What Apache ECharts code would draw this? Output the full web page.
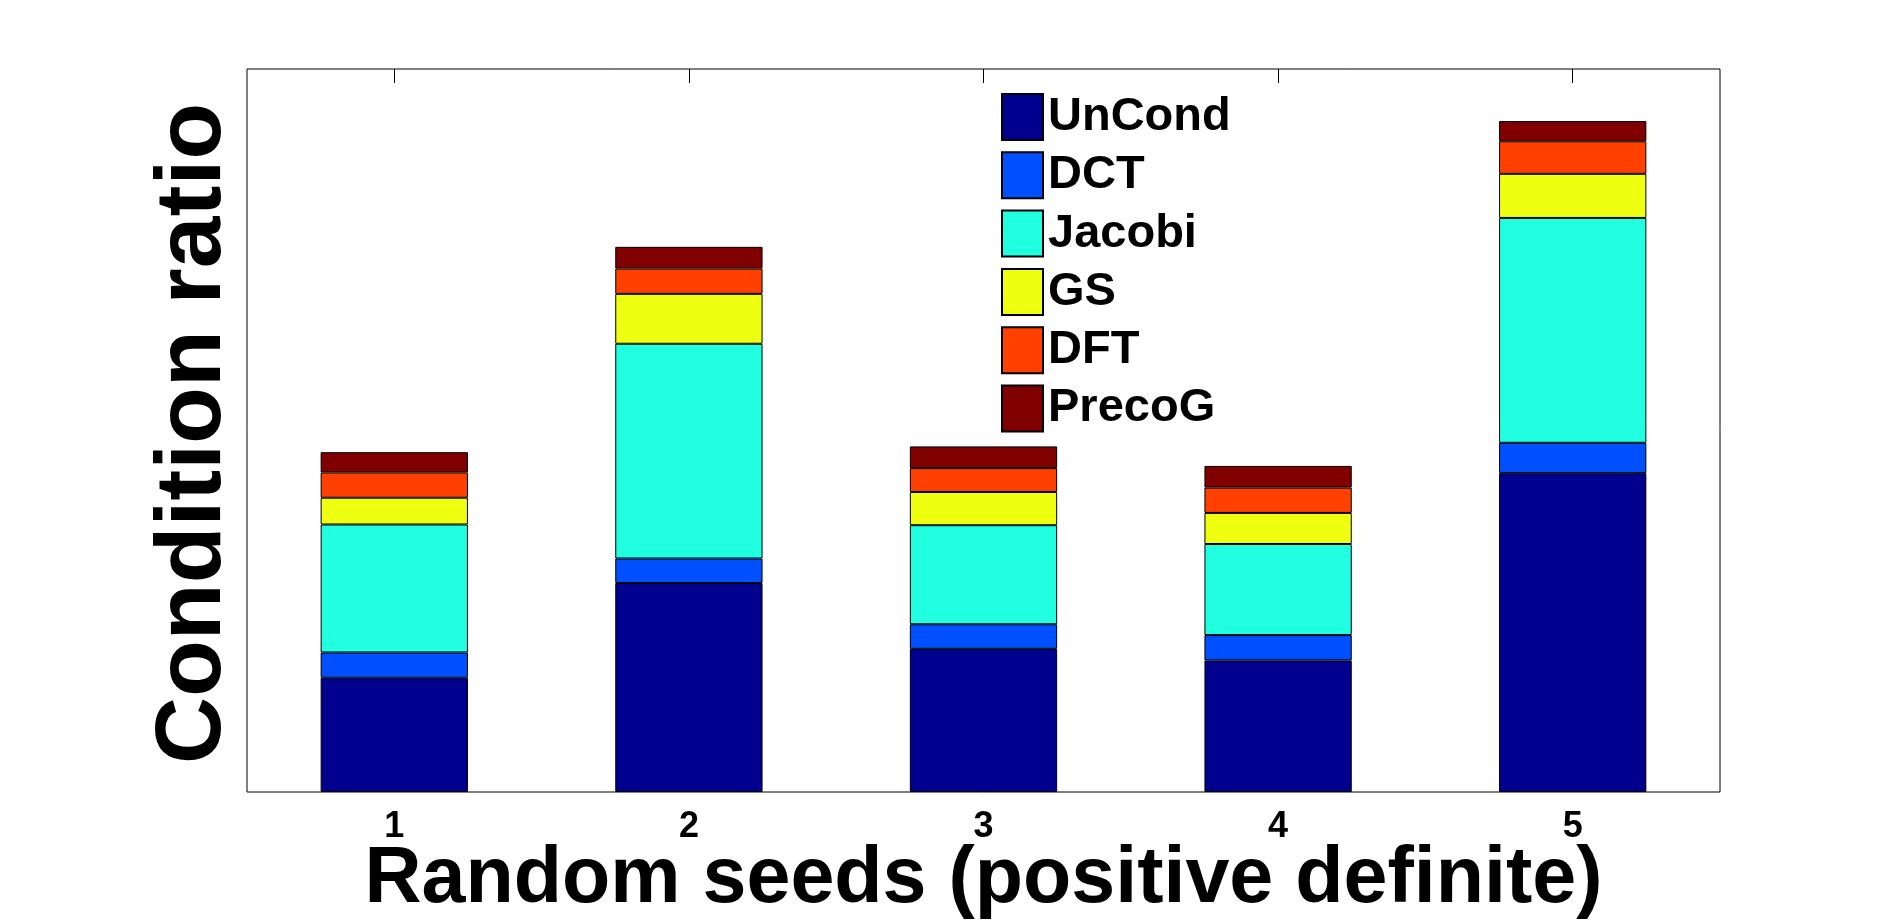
<!DOCTYPE html>
<html>
<head>
<meta charset="utf-8">
<script src="https://cdn.jsdelivr.net/npm/echarts@6/dist/echarts.min.js"></script>
<style>
  html, body { margin: 0; padding: 0; background: #fff; }
  #chart { width: 1900px; height: 922px; }
</style>
</head>
<body>
<div id="chart"></div>
<script>
var seeds = ['1', '2', '3', '4', '5']
var methods = ['UnCond', 'DCT', 'Jacobi', 'GS', 'DFT', 'PrecoG']
var colors = ['#00008f', '#0050ff', '#20ffdf', '#efff10', '#ff4000', '#800000']

// stacked segment heights per seed, in the order of methods
var unCond = [15.8, 28.9, 19.8, 18.2, 44.1]
var dct = [3.5, 3.4, 3.4, 3.5, 4.2]
var jacobi = [17.7, 29.7, 13.7, 12.6, 31.1]
var gs = [3.7, 6.9, 4.6, 4.3, 6.1]
var dft = [3.5, 3.5, 3.3, 3.5, 4.5]
var precoG = [2.8, 3.0, 3.0, 3.0, 2.8]
var values = [unCond, dct, jacobi, gs, dft, precoG]

var font = "'Liberation Sans', Arial, Helvetica, sans-serif"

var dom = document.getElementById('chart')
var myChart = echarts.init(dom)

var series = methods.map(function (name, i) {
  return {
    name: name,
    type: 'bar',
    stack: 'total',
    barWidth: '50%',
    data: values[i],
    itemStyle: {
      color: colors[i],
      borderColor: '#000',
      borderWidth: 1
    },
    emphasis: { disabled: true }
  }
})

option = {
  animation: false,
  backgroundColor: '#fff',
  grid: {
    left: 247, top: 69, width: 1473, height: 723,
    containLabel: false, outerBoundsMode: 'none',
    show: true, borderColor: '#000', borderWidth: 1, backgroundColor: 'transparent'
  },
  legend: {
    orient: 'vertical',
    left: 1001,
    top: 93,
    padding: 0,
    itemWidth: 41,
    itemHeight: 46,
    itemGap: 10.3,
    icon: 'rect',
    selectedMode: false,
    data: methods,
    textStyle: {
      fontSize: 47,
      fontWeight: 'bold',
      fontFamily: font,
      color: '#000',
      padding: [0, 0, 0, 0],
      lineHeight: 46
    }
  },
  xAxis: [
    {
      type: 'category',
      data: seeds,
      position: 'bottom',
      axisLine: { show: false },
      axisTick: { show: false },
      axisLabel: {
        color: '#000',
        fontSize: 36,
        fontWeight: 'bold',
        fontFamily: font,
        margin: 17
      },
      name: 'Random seeds (positive definite)',
      nameLocation: 'middle',
      nameGap: 49,
      nameMoveOverlap: false,
      nameTextStyle: {
        color: '#000',
        fontSize: 79,
        fontWeight: 'bold',
        fontFamily: font,
        verticalAlign: 'top'
      }
    },
    {
      type: 'category',
      data: seeds,
      position: 'top',
      axisLine: { show: false, onZero: false },
      axisTick: { show: true, inside: true, length: 14, alignWithLabel: true, lineStyle: { color: '#000' } },
      axisLabel: { show: false }
    }
  ],
  yAxis: {
    type: 'value',
    min: 0,
    max: 100,
    axisLine: { show: false },
    axisTick: { show: false },
    axisLabel: { show: false },
    splitLine: { show: false },
    name: 'Condition ratio',
    nameLocation: 'middle',
    nameGap: 6,
    nameRotate: 90,
    nameTextStyle: {
      color: '#000',
      fontSize: 93,
      fontWeight: 'bold',
      fontFamily: font,
      verticalAlign: 'bottom',
      padding: [0, 6, 0, 0]
    }
  },
  series: series
}

if (option && typeof option === 'object') {
  myChart.setOption(option, true)
}
</script>
</body>
</html>
